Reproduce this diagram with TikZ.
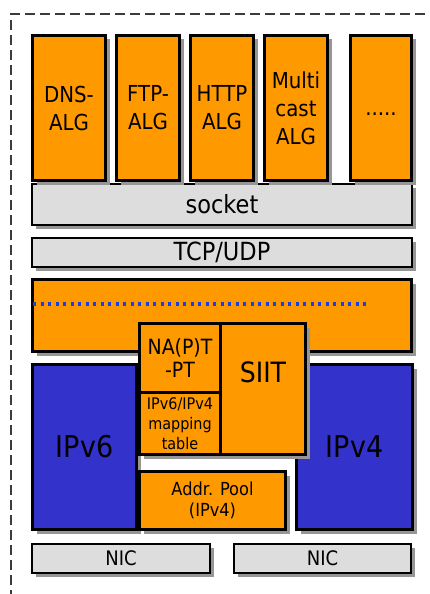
\documentclass[tikz,border=0pt]{standalone}
\usepackage{fontspec}
\setmainfont{DejaVu Sans}[FakeStretch=0.9]
\usetikzlibrary{positioning, shadows}
\definecolor{orng}{RGB}{255,153,0}
\definecolor{ipblue}{RGB}{51,51,204}
\definecolor{barfill}{RGB}{221,221,221}
\definecolor{shadegray}{RGB}{150,150,150}
\definecolor{dotblue}{RGB}{30,60,230}
\definecolor{framegray}{RGB}{60,60,60}

\begin{document}
\begin{tikzpicture}[x=1pt, y=-1pt,
        blk/.style={rectangle, draw=black, line width=3pt, anchor=north west,
                    inner sep=1pt, align=center,
                    drop shadow={shadow xshift=4pt, shadow yshift=-4pt,
                                 fill=shadegray, opacity=1}},
        alg/.style={blk, fill=orng, minimum height=145pt,
                    font=\fontsize{22}{28}\selectfont},
        bar/.style={blk, line width=2pt, fill=barfill,
                    font=\fontsize{25}{30}\selectfont},
        ipbox/.style={blk, fill=ipblue, minimum height=165pt,
                    font=\fontsize{30}{34}\selectfont},
        xlat/.style={blk, fill=orng},
        frame/.style={draw=framegray, line width=2pt, dash pattern=on 10pt off 5pt},
        dotline/.style={draw=dotblue, line width=3.5pt, dash pattern=on 3pt off 4.5pt},
        node distance=8pt]
      \useasboundingbox (0,0) rectangle (429,594);
      \draw[frame] (11,600) -- (11,14) -- (440,14);
      % socket and transport layer
      \node[bar, minimum width=380pt, minimum height=41pt] (sock) at (31,183) {socket};
      \node[bar, minimum width=380pt, minimum height=29pt] (tcp) at (31,237) {TCP/UDP};
      % gateways
      \node[alg, minimum width=73pt] (dns) at (31,34) {DNS-\\ALG};
      \node[alg, minimum width=63pt, right=of dns] (ftp) {FTP-\\ALG};
      \node[alg, minimum width=63pt, right=of ftp] (http) {HTTP\\ALG};
      \node[alg, minimum width=63pt, right=of http] (mcast) {Multi\\cast\\ALG};
      \node[alg, minimum width=61pt, right=20pt of mcast,
            text height=15pt, text depth=0pt] (more) {.....};
      % IP layer
      \node[xlat, minimum width=379pt, minimum height=72pt] (iplay) at (31,278) {};
      \draw[dotline] (33,304) -- (368,304);
      \node[ipbox, minimum width=104pt] (v6) at (31,363) {IPv6};
      \node[ipbox, minimum width=116pt] (v4) at (295,363) {IPv4};
      \node[xlat, minimum width=146pt, minimum height=58pt,
            font=\fontsize{18}{21}\selectfont] (pool) at (138,470) {Addr. Pool\\(IPv4)};
      \node[xlat, minimum width=81pt, minimum height=69pt,
            font=\fontsize{21}{23}\selectfont] (napt) at (138,322) {NA(P)T\\-PT};
      \node[xlat, minimum width=81pt, minimum height=62pt,
            font=\fontsize{16}{20}\selectfont] (map) at (138,391) {IPv6/IPv4\\mapping\\table};
      \node[xlat, minimum width=85pt, minimum height=131pt, text depth=34pt,
            font=\fontsize{28}{30}\selectfont] (siit) at (219,322) {SIIT};
      % interfaces
      \node[bar, minimum width=178pt, minimum height=29pt,
            font=\fontsize{20}{22}\selectfont] (nicA) at (31,543) {NIC};
      \node[bar, minimum width=177pt, minimum height=29pt,
            font=\fontsize{20}{22}\selectfont] (nicB) at (233,543) {NIC};
    \end{tikzpicture}
\end{document}
